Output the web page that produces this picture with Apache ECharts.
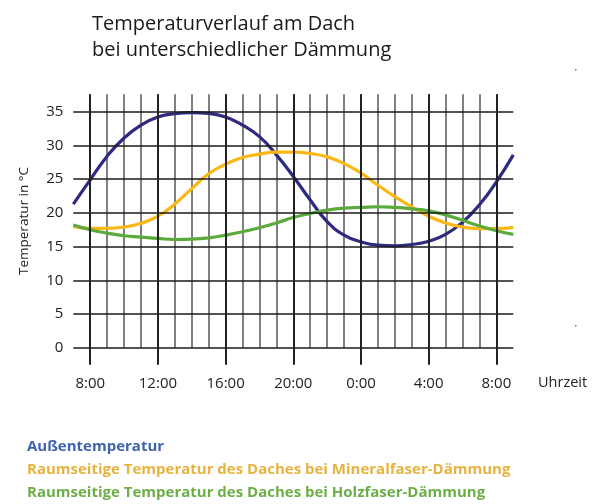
<!DOCTYPE html>
<html>
<head>
<meta charset="utf-8">
<script src="https://cdn.jsdelivr.net/npm/echarts@6/dist/echarts.min.js"></script>
<style>
html,body{margin:0;padding:0;background:#fff;}
#chart{width:595px;height:504px;}
</style>
</head>
<body>
<div id="chart"></div>
<script>
// Hours from 7:00 to 9:00 next day (values > 24 are next day)
var hours = ['7','8','9','10','11','12','13','14','15','16','17','18','19','20','21','22','23','24','25','26','27','28','29','30','31','32','33'];
var majorHours = ['8','12','16','20','24','28','32'];
var yTicks = [0,5,10,15,20,25,30,35];

var aussen  = [21.3,24.9,28.4,31.1,33.0,34.2,34.7,34.85,34.75,34.2,33.0,31.3,28.6,25.4,21.9,18.7,16.7,15.7,15.2,15.1,15.3,15.8,16.8,18.6,21.2,24.6,28.6];
var mineral = [18.0,17.7,17.7,17.9,18.45,19.5,21.3,23.6,25.8,27.2,28.2,28.7,29.0,29.0,28.8,28.3,27.3,25.9,24.1,22.4,20.9,19.5,18.5,17.9,17.65,17.65,17.85];
var holz    = [18.2,17.5,17.0,16.6,16.4,16.2,16.05,16.1,16.3,16.7,17.2,17.8,18.5,19.3,19.9,20.4,20.7,20.8,20.9,20.8,20.6,20.3,19.7,18.9,18.05,17.35,16.8];

var names = ['Außentemperatur','Raumseitige Temperatur des Daches bei Mineralfaser-Dämmung','Raumseitige Temperatur des Daches bei Holzfaser-Dämmung'];
var lineColors = ['#2d2a80','#fbb714','#5aab3c'];
var legendColors = ['#3f63ad','#e7b33f','#6dae47'];

var FONT = '"Open Sans", "Noto Sans", sans-serif';
var chart = echarts.init(document.getElementById('chart'), null, {renderer:'canvas'});

var option = {
  animation: false,
  backgroundColor: '#fff',
  textStyle: {fontFamily: FONT},
  title: {
    text: 'Temperaturverlauf am Dach\nbei unterschiedlicher Dämmung',
    left: 92, top: 11, padding: 0,
    textStyle: {fontSize: 20, fontWeight: 'normal', color: '#1a1a1a', lineHeight: 26, fontFamily: FONT}
  },
  legend: {
    orient: 'vertical',
    left: 22, top: 438, padding: 0,
    icon: 'none', itemWidth: 0, itemHeight: 10,
    itemGap: 5,
    selectedMode: false,
    textStyle: {fontSize: 15, fontWeight: 'bold', lineHeight: 18, fontFamily: FONT},
    data: names.map(function(n, i){ return {name: n, textStyle: {color: legendColors[i]}}; })
  },
  grid: {left: 73.3, right: 81.7, top: 94.3, bottom: 156.3, containLabel: false},
  xAxis: {
    type: 'category',
    data: hours,
    boundaryGap: false,
    axisLine: {show: false},
    axisTick: {
      show: true, length: 17,
      interval: function(i, v){ return majorHours.indexOf(v) >= 0; },
      lineStyle: {color: '#222', width: 2}
    },
    axisLabel: {
      interval: function(i, v){ return majorHours.indexOf(v) >= 0; },
      formatter: function(v){ return (Number(v) % 24) + ':00'; },
      margin: 29, fontSize: 15, color: '#222', fontFamily: FONT
    },
    splitLine: {
      show: true,
      interval: function(i, v){ return i > 0 && i < hours.length - 1; },
      lineStyle: {color: '#808080', width: 2}
    }
  },
  yAxis: {
    type: 'value',
    min: 0, max: 37.58, interval: 5,
    axisLine: {show: false},
    axisTick: {show: false},
    splitLine: {show: false},
    axisLabel: {
      formatter: function(v){ return (yTicks.indexOf(v) >= 0) ? String(v) : ''; },
      margin: 10, fontSize: 15, color: '#222', fontFamily: FONT
    },
    name: 'Temperatur in °C',
    nameLocation: 'middle',
    nameRotate: 90,
    nameGap: 42,
    nameTextStyle: {fontSize: 13.5, color: '#222', fontFamily: FONT}
  },
  graphic: [
    {type: 'text', left: 538, top: 375, style: {text: 'Uhrzeit', fontSize: 14.5, fill: '#222', fontFamily: FONT}},
    {type: 'rect', shape: {x: 575, y: 69, width: 1.5, height: 1.5}, style: {fill: '#777'}},
    {type: 'rect', shape: {x: 575, y: 325, width: 1.5, height: 1.5}, style: {fill: '#777'}}
  ],
  series: [
    {
      name: '_grid', type: 'line', data: [], z: 1, silent: true,
      markLine: {
        silent: true, symbol: 'none', label: {show: false}, animation: false,
        data: yTicks.map(function(t){ return {yAxis: t, lineStyle: {color: '#1a1a1a', width: 1.5, type: 'solid'}}; })
          .concat(majorHours.map(function(h){ return {xAxis: h, lineStyle: {color: '#222', width: 2, type: 'solid'}}; }))
      }
    },
    {name: names[0], type: 'line', data: aussen, smooth: true, showSymbol: false, z: 3, lineStyle: {color: lineColors[0], width: 3.2}, itemStyle: {color: lineColors[0]}},
    {name: names[1], type: 'line', data: mineral, smooth: true, showSymbol: false, z: 3, lineStyle: {color: lineColors[1], width: 3.2}, itemStyle: {color: lineColors[1]}},
    {name: names[2], type: 'line', data: holz, smooth: true, showSymbol: false, z: 3, lineStyle: {color: lineColors[2], width: 3.2}, itemStyle: {color: lineColors[2]}}
  ]
};
chart.setOption(option);
</script>
</body>
</html>
